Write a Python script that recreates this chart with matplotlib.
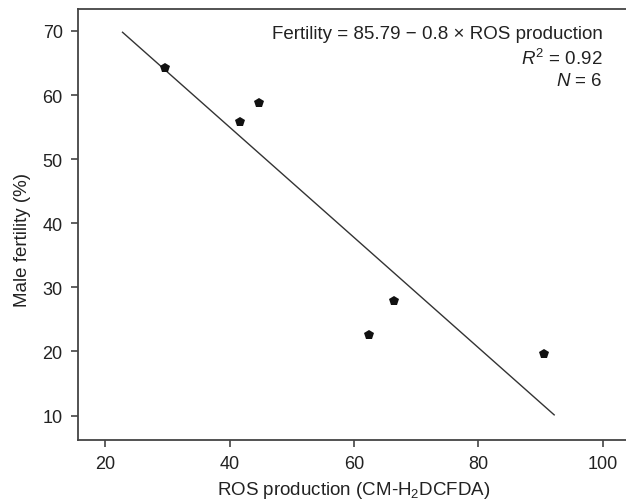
import matplotlib
matplotlib.use('Agg')
import matplotlib.pyplot as plt

plt.rcParams['font.family'] = ['Liberation Sans', 'DejaVu Sans']
plt.rcParams['mathtext.fontset'] = 'custom'
plt.rcParams['mathtext.rm'] = 'Liberation Sans'
plt.rcParams['mathtext.it'] = 'Liberation Sans:italic'

# data
ros = [29.6, 41.7, 44.8, 62.5, 66.5, 90.5]
fertility = [64.3, 55.8, 58.7, 22.6, 27.8, 19.6]

# fitted line as drawn
fit_x = [22.8, 92.2]
fit_y = [69.8, 10.1]

x_ticks = [20, 40, 60, 80, 100]
y_ticks = [10, 20, 30, 40, 50, 60, 70]

fig = plt.figure(figsize=(6.26, 5.02), dpi=100)
ax = fig.add_axes([78 / 626, 1 - 440.6 / 502, 562 / 626, 430.6 / 502])

ax.plot(fit_x, fit_y, color='#333333', lw=1.0)
ax.plot(ros, fertility, 'p', color='#111111', markersize=7.5, markeredgewidth=0)

ax.set_xlim(15.64, 106.0)
ax.set_ylim(6.24, 73.43)
ax.set_xticks(x_ticks)
ax.set_yticks(y_ticks)

for s in ['left', 'bottom', 'top']:
    ax.spines[s].set_color('#444444')
    ax.spines[s].set_linewidth(1.3)
ax.spines['right'].set_visible(False)
ax.tick_params(direction='out', length=5, width=1.2, color='#444444',
               labelsize=13, labelcolor='#222222', pad=6)

ax.set_xlabel('ROS production (CM-H$_2$DCFDA)', fontsize=13.5, color='#222222', labelpad=5)
ax.xaxis.label.set_x(0.491)
ax.set_ylabel('Male fertility (%)', fontsize=13.5, color='#222222', labelpad=8)
ax.yaxis.label.set_y(0.466)

txt = dict(ha='right', va='center', fontsize=13.5, color='#222222')
ax.text(100, 69.6, 'Fertility = 85.79 \u2212 0.8 \u00d7 ROS production', **txt)
ax.text(100, 65.8, '$R^2$ = 0.92', **txt)
ax.text(100, 62.2, '$N$ = 6', **txt)

fig.savefig('out.png', dpi=100)
